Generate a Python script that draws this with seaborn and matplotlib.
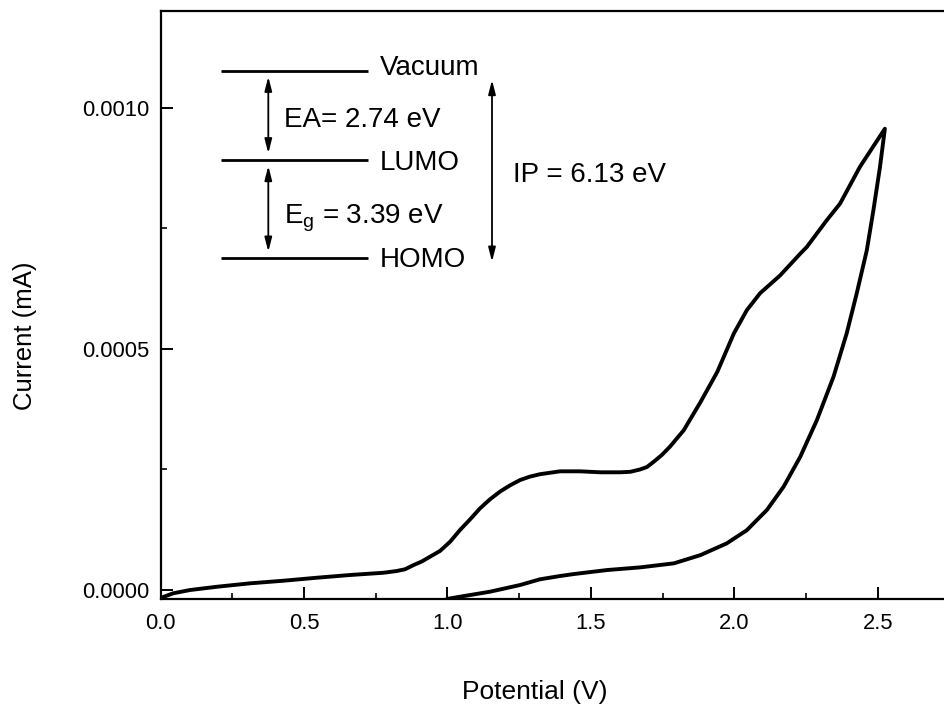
import matplotlib
matplotlib.use("Agg")
import matplotlib.pyplot as plt
from matplotlib.ticker import MultipleLocator, FormatStrFormatter
import numpy as np
import pandas as pd
import seaborn as sns

# ---- data ----
fwd_v = [0.0, 0.044, 0.103, 0.197, 0.312, 0.429, 0.545, 0.660, 0.777, 0.823, 0.852,
         0.882, 0.910, 0.939, 0.974, 1.009, 1.043, 1.078, 1.113, 1.148, 1.183, 1.218,
         1.253, 1.287, 1.322, 1.392, 1.462, 1.532, 1.602, 1.637, 1.672, 1.695, 1.719,
         1.747, 1.775, 1.799, 1.823, 1.882, 1.940, 1.998, 2.043, 2.089, 2.159,
         2.229, 2.252, 2.321, 2.368, 2.437, 2.524]
fwd_i = [-0.166, -0.068, 0.0, 0.068, 0.139, 0.193, 0.255, 0.311, 0.358, 0.394, 0.43,
         0.518, 0.59, 0.69, 0.81, 1.0, 1.24, 1.46, 1.69, 1.88, 2.04, 2.17,
         2.28, 2.35, 2.40, 2.46, 2.46, 2.44, 2.44, 2.45, 2.50, 2.55, 2.66,
         2.80, 2.97, 3.14, 3.31, 3.90, 4.52, 5.32, 5.80, 6.15, 6.52,
         6.97, 7.11, 7.66, 8.01, 8.77, 9.56]
rev_v = [2.507, 2.484, 2.461, 2.426, 2.391, 2.345, 2.287, 2.229, 2.171, 2.113, 2.043,
         1.973, 1.882, 1.789, 1.672, 1.556, 1.440, 1.392, 1.322, 1.253, 1.148, 1.043,
         0.998]
rev_i = [8.77, 7.87, 7.04, 6.15, 5.32, 4.42, 3.52, 2.76, 2.14, 1.66, 1.24,
         0.967, 0.725, 0.553, 0.47, 0.414, 0.331, 0.29, 0.222, 0.104, -0.035, -0.139,
         -0.186]
scale_i = 1e-4

x_ticks = [0.0, 0.5, 1.0, 1.5, 2.0, 2.5]
y_ticks = [0.0, 0.0005, 0.0010]

levels = ["Vacuum", "LUMO", "HOMO"]
ea_text = "EA= 2.74 eV"
eg_text = r"E$_{\mathrm{g}}$ = 3.39 eV"
ip_text = "IP = 6.13 eV"

df = pd.DataFrame({
    "Potential": fwd_v + rev_v,
    "Current": [v * scale_i for v in fwd_i + rev_i],
})

# ---- style ----
sns.set_theme(style="ticks")
plt.rcParams["font.family"] = ["Liberation Sans", "DejaVu Sans"]
plt.rcParams["mathtext.fontset"] = "custom"
plt.rcParams["mathtext.rm"] = "Liberation Sans"
plt.rcParams["mathtext.it"] = "Liberation Sans"

W, H = 944, 707
fig = plt.figure(figsize=(W / 100, H / 100), dpi=100)
fig.patch.set_facecolor("white")
L, R, B, T = 160.5, 944, 599, 11
ax = fig.add_axes([L / W, 1 - B / H, (R - L) / W, (B - T) / H])
ax.set_facecolor("white")

sns.lineplot(data=df, x="Potential", y="Current", sort=False, estimator=None,
             color="black", linewidth=2.8, ax=ax)
for ln in ax.lines:
    ln.set_solid_joinstyle("round")

ax.set_xlim(0, 2.73)
ax.set_ylim(-0.0000186, 0.0012)
ax.set_xticks(x_ticks)
ax.set_yticks(y_ticks)
ax.xaxis.set_minor_locator(MultipleLocator(0.25))
ax.yaxis.set_minor_locator(MultipleLocator(0.00025))
ax.xaxis.set_major_formatter(FormatStrFormatter("%.1f"))
ax.yaxis.set_major_formatter(FormatStrFormatter("%.4f"))
ax.tick_params(which="major", direction="in", length=8.6, width=1.4,
               labelsize=15.8, colors="black", pad=8)
ax.tick_params(which="minor", direction="in", length=4.3, width=1.4)
ax.tick_params(axis="x", pad=10)

for s in ["left", "bottom", "top"]:
    ax.spines[s].set_linewidth(1.6)
    ax.spines[s].set_color("black")
ax.spines["right"].set_visible(False)

ax.set_xlabel("Potential (V)", fontsize=19, color="black")
ax.set_ylabel("Current (mA)", fontsize=18.5, color="black")
ax.xaxis.set_label_coords(0.478, -0.158)
ax.xaxis.label.set_va("center")
ax.yaxis.set_label_coords(-0.173, 0.447)
ax.yaxis.label.set_va("center")


def fx(px):
    return (px - L) / (R - L)


def fy(py):
    return (B - py) / (B - T)


tr = ax.transAxes
# energy level lines and labels
lvl_y = [71, 160, 258]
lvl_base = [75, 170, 266.7]
for name, ly, by in zip(levels, lvl_y, lvl_base):
    ax.plot([fx(221), fx(368)], [fy(ly), fy(ly)], color="black", lw=2.0,
            transform=tr, solid_capstyle="butt")
    ax.text(fx(380), fy(by), name, transform=tr, fontsize=20, va="baseline",
            ha="left", color="black")

arrow_kw = dict(arrowstyle="<|-|>,head_length=0.7,head_width=0.18", lw=1.3,
                color="black", shrinkA=0, shrinkB=0, mutation_scale=12)
ax.annotate("", xy=(fx(268.3), fy(76.7)), xytext=(fx(268.3), fy(153.3)),
            xycoords=tr, textcoords=tr, arrowprops=arrow_kw)
ax.annotate("", xy=(fx(268.3), fy(166)), xytext=(fx(268.3), fy(251.7)),
            xycoords=tr, textcoords=tr, arrowprops=arrow_kw)
ax.annotate("", xy=(fx(492), fy(80)), xytext=(fx(492), fy(261.7)),
            xycoords=tr, textcoords=tr, arrowprops=arrow_kw)

ax.text(fx(283.5), fy(127.3), ea_text, transform=tr, fontsize=20,
        va="baseline", ha="left", color="black")
ax.text(fx(283.5), fy(223.3), eg_text, transform=tr, fontsize=20,
        va="baseline", ha="left", color="black")
ax.text(fx(513.3), fy(181.7), ip_text, transform=tr, fontsize=20,
        va="baseline", ha="left", color="black")

fig.savefig("out.png", dpi=100, facecolor="white")
